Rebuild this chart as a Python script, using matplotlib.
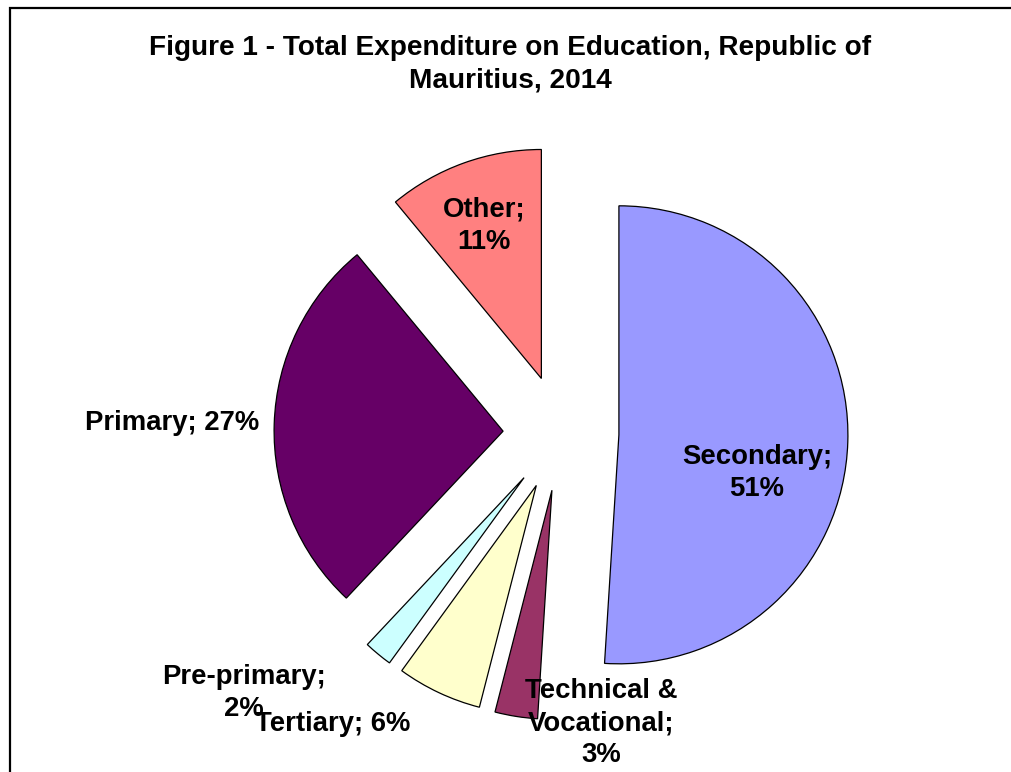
import matplotlib
matplotlib.use("Agg")
import matplotlib.pyplot as plt
from matplotlib.patches import Rectangle

# ---- data ----
categories = ["Secondary", "Technical & Vocational", "Tertiary", "Pre-primary", "Primary", "Other"]
shares = [51, 3, 6, 2, 27, 11]
title = "Figure 1 - Total Expenditure on Education, Republic of\nMauritius, 2014"

# ---- style / layout ----
colors = ["#9999FF", "#993366", "#FFFFCC", "#CCFFFF", "#660066", "#FF8080"]
label_texts = ["Secondary;\n51%", "Technical &\nVocational;\n3%", "Tertiary; 6%",
               "Pre-primary;\n2%", "Primary; 27%", "Other;\n11%"]
label_pos = [(0.856, -0.175), (0.175, -1.268), (-0.996, -1.271),
             (-1.384, -1.135), (-1.699, 0.044), (-0.336, 0.905)]
explode = [0.253] * len(shares)

plt.rcParams['font.family'] = ['Liberation Sans', 'DejaVu Sans']

W, H = 1011, 772
fig = plt.figure(figsize=(W / 100, H / 100), dpi=100)
fig.patch.set_facecolor("white")

ax = fig.add_axes([0, 0, 1, 1])
ax.pie(shares, colors=colors, explode=explode, startangle=90, counterclock=False,
       radius=1.0, wedgeprops=dict(edgecolor="black", linewidth=0.9))
cx, cy, r = 561, 433, 229
ax.set_xlim(-cx / r, (W - cx) / r)
ax.set_ylim(-(H - cy) / r, cy / r)
ax.set_aspect("equal")
ax.axis("off")

for txt, (x, y) in zip(label_texts, label_pos):
    ax.text(x, y, txt, ha="center", va="center", fontsize=19.8, fontweight="bold",
            multialignment="center", linespacing=1.3, color="black")

fig.text(510 / W, 1 - 64.5 / H, title, ha="center", va="center", fontsize=20.2,
         fontweight="bold", multialignment="center", linespacing=1.33)

# outer frame (cropped on right and bottom)
fig.patches.append(Rectangle((9.5 / W, -0.1), 1.2, (1 - 8 / H) + 0.1,
                             transform=fig.transFigure, fill=False,
                             edgecolor="black", linewidth=1.6, clip_on=False))

fig.savefig("out.png", dpi=100)
